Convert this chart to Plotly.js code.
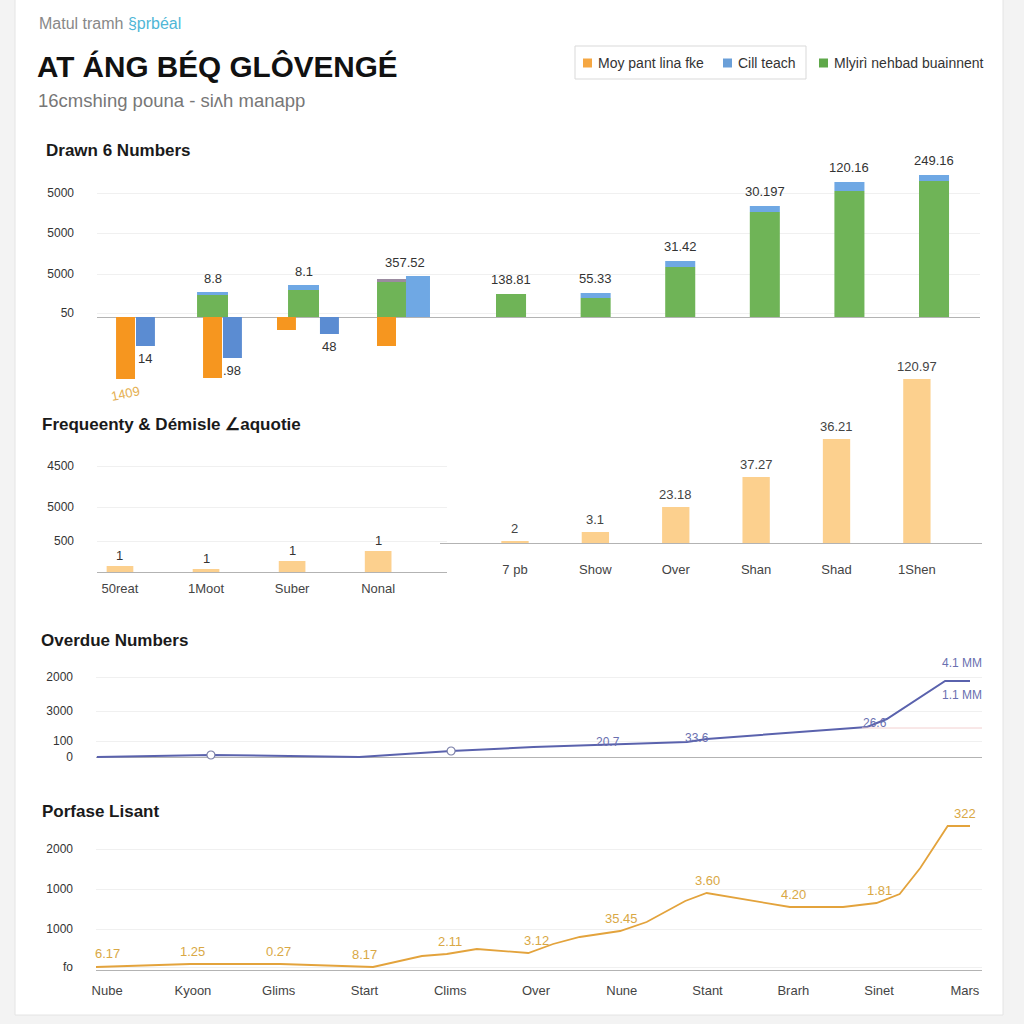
<!DOCTYPE html>
<html><head><meta charset="utf-8">
<script src="https://cdn.plot.ly/plotly-3.0.1.min.js"></script>
<style>html,body{margin:0;padding:0;background:#f3f3f3;}</style>
</head><body><div id="chart" style="width:1024px;height:1024px;"></div>
<script>
// ---------- Panel 1: Drawn 6 Numbers ----------
const drawnGroupsLeft = [1, 2, 3, 4];
const drawnGroupsRight = [5, 6, 7, 8, 9, 10];
const drawnGreenLeft = [0, 22, 27, 35];
const drawnBlueCapLeft = [0, 3, 5, 0];
const drawnPurpleCapLeft = [0, 0, 0, 3];
const drawnOrangeNeg = [-62, -61, -13, -29];
const drawnBlueNeg = [-29, -41, -17, 0];
const drawnBluePos = [0, 0, 0, 41];
const drawnGreenRight = [23, 19, 50, 105, 126, 136];
const drawnBlueCapRight = [0, 5, 6, 6, 9, 6];
const drawnTopLabelsLeft = ["", "8.8", "8.1", "357.52"];
const drawnTopLabelsRight = ["138.81", "55.33", "31.42", "30.197", "120.16", "249.16"];
const drawnBlueNegLabels = ["14", ".98", "48", ""];
const drawnOrangeNegLabels = ["1409", "", "", ""];
const drawnTickVals = [4, 43, 84, 124];
const drawnTickText = ["50", "5000", "5000", "5000"];

// ---------- Panel 2: Frequency ----------
const freqCatsLeft = ["50reat", "1Moot", "Suber", "Nonal"];
const freqValsLeft = [6, 3, 11, 21];
const freqLabelsLeft = ["1", "1", "1", "1"];
const freqCatsRight = ["7 pb", "Show", "Over", "Shan", "Shad", "1Shen"];
const freqValsRight = [2, 11, 36, 66, 104, 164];
const freqLabelsRight = ["2", "3.1", "23.18", "37.27", "36.21", "120.97"];
const freqTickVals = [31, 65, 106];
const freqTickText = ["500", "5000", "4500"];

// ---------- Panel 3: Overdue Numbers ----------
const overdueX = [-0.12, 1.21, 2.94, 4.01, 4.97, 5.98, 6.76, 6.99, 8.86, 9.09, 9.77, 10.06];
const overdueY = [0, 2, 0, 6, 10, 13, 15, 18, 30, 38, 76, 76];
const overdueCircles = [1, 3];
const overdueLabelIdx = [5, 7, 8];
const overdueLabels = ["20.7", "33.6", "26.6"];
const overdueEndLabels = ["4.1 MM", "1.1 MM"];
const overdueTickVals = [0, 16, 46, 80];
const overdueTickText = ["0", "100", "3000", "2000"];

// ---------- Panel 4: Porfase Lisant ----------
const lisantCats = ["Nube", "Kyoon", "Glims", "Start", "Clims", "Over", "Nune", "Stant", "Brarh", "Sinet", "Mars"];
const lisantX = [-0.13, 0.97, 2.02, 3.10, 3.67, 3.96, 4.31, 4.91, 5.20, 5.51, 5.98, 6.29, 6.74, 6.99, 7.96, 8.58, 8.97, 9.24, 9.48, 9.80, 10.06];
const lisantY = [3, 6, 6, 3, 14, 16, 21, 17, 26, 33, 39, 48, 69, 77, 63, 63, 67, 76, 102, 144, 144];
const lisantLabels = ["6.17", "1.25", "0.27", "8.17", "2.11", "3.12", "35.45", "3.60", "4.20", "1.81", "322"];
const lisantLabelAt = [4, 6, 6, 3, 16, 17, 39, 77, 63, 67, 144];
const lisantTickVals = [3, 41, 81, 121];
const lisantTickText = ["fo", "1000", "1000", "2000"];

// ---------- helpers ----------
const px = v => v / 1024;
const py = v => 1 - v / 1024;
const FONT = "Liberation Sans, Arial, sans-serif";
const ORANGE = "#f6961f", BLUE = "#5b8cd2", BLUE2 = "#6fa8e4", GREEN = "#6fb457", PURPLE = "#9b8ba0";
const BARORANGE = "#fcd08e", LINEBLUE = "#5a62ad", LINEGOLD = "#e3a33c", LABBLUE = "#6a70b0", LABGOLD = "#d9a845";

const orangeOff = [-0.195, -0.195, -0.345, -0.195];
const blueOff = [0.034, 0.034, 0.149, 0.034];
const greenOffL = [-0.264, -0.264, -0.218, -0.195];
const smallW = 0.218, greenW = 0.356;

const traces = [];
// panel 1 left
traces.push({type: "bar", x: drawnGroupsLeft, y: drawnGreenLeft, xaxis: "x", yaxis: "y", offset: greenOffL, width: greenW, marker: {color: GREEN, line: {width: 0}}});
traces.push({type: "bar", x: drawnGroupsLeft, y: drawnBlueCapLeft, base: drawnGreenLeft, xaxis: "x", yaxis: "y", offset: greenOffL, width: greenW, marker: {color: BLUE2, line: {width: 0}}});
traces.push({type: "bar", x: drawnGroupsLeft, y: drawnPurpleCapLeft, base: drawnGreenLeft, xaxis: "x", yaxis: "y", offset: greenOffL, width: greenW, marker: {color: PURPLE, line: {width: 0}}});
traces.push({type: "bar", x: drawnGroupsLeft, y: drawnOrangeNeg, xaxis: "x", yaxis: "y", offset: orangeOff, width: smallW, marker: {color: ORANGE, line: {width: 0}}});
traces.push({type: "bar", x: drawnGroupsLeft, y: drawnBlueNeg, xaxis: "x", yaxis: "y", offset: blueOff, width: smallW, marker: {color: BLUE, line: {width: 0}}});
traces.push({type: "bar", x: drawnGroupsLeft, y: drawnBluePos, xaxis: "x", yaxis: "y", offset: 0.138, width: 0.276, marker: {color: BLUE2, line: {width: 0}}});
// panel 1 right
traces.push({type: "bar", x: drawnGroupsRight, y: drawnGreenRight, xaxis: "x2", yaxis: "y", offset: -0.177, width: 0.355, marker: {color: GREEN, line: {width: 0}}});
traces.push({type: "bar", x: drawnGroupsRight, y: drawnBlueCapRight, base: drawnGreenRight, xaxis: "x2", yaxis: "y", offset: -0.177, width: 0.355, marker: {color: BLUE2, line: {width: 0}}});
// panel 2
traces.push({type: "bar", x: freqCatsLeft, y: freqValsLeft, xaxis: "x3", yaxis: "y2", width: 0.31, marker: {color: BARORANGE, line: {width: 0}}});
traces.push({type: "bar", x: freqCatsRight, y: freqValsRight, xaxis: "x4", yaxis: "y3", width: 0.34, marker: {color: BARORANGE, line: {width: 0}}});
// panel 3
traces.push({type: "scatter", mode: "lines", x: overdueX, y: overdueY, xaxis: "x5", yaxis: "y4", line: {color: LINEBLUE, width: 2}});
traces.push({type: "scatter", mode: "markers", x: overdueCircles.map(i => overdueX[i]), y: overdueCircles.map(i => overdueY[i]), xaxis: "x5", yaxis: "y4",
  marker: {size: 8, color: "#ffffff", line: {color: "#7a7fa8", width: 1.2}}});
// panel 4
traces.push({type: "scatter", mode: "lines", x: lisantX, y: lisantY, xaxis: "x6", yaxis: "y5", line: {color: LINEGOLD, width: 1.8}});

const ann = [];
const shapes = [];
// card and header
shapes.push({type: "rect", xref: "paper", yref: "paper", x0: px(15), x1: px(1003), y0: py(1015), y1: py(-5), fillcolor: "#ffffff", line: {color: "#e4e4e4", width: 1}, layer: "below"});
ann.push({xref: "paper", yref: "paper", x: px(37), y: py(23), xanchor: "left", yanchor: "middle", showarrow: false,
  text: "Matul tramh <span style='color:#4fb6d6'>§prbéal</span>", font: {size: 16, color: "#888888"}});
ann.push({xref: "paper", yref: "paper", x: px(35), y: py(66), xanchor: "left", yanchor: "middle", showarrow: false,
  text: "<b>AT ÁNG BÉQ GLÔVENGÉ</b>", font: {size: 29.7, color: "#111111"}});
ann.push({xref: "paper", yref: "paper", x: px(36), y: py(100), xanchor: "left", yanchor: "middle", showarrow: false,
  text: "16cmshing pouna - siʌh manapp", font: {size: 18.5, color: "#777777"}});
// legend
shapes.push({type: "rect", xref: "paper", yref: "paper", x0: px(575), x1: px(806), y0: py(79), y1: py(46), fillcolor: "#ffffff", line: {color: "#d9d9d9", width: 1}});
const legItems = [["Moy pant lina fke", "#f5a742", 583], ["Cill teach", "#6a9fd8", 723], ["Mlyirì nehbad buainnent", "#5fa84a", 819]];
legItems.forEach(([t, c, xx]) => {
  shapes.push({type: "rect", xref: "paper", yref: "paper", x0: px(xx), x1: px(xx + 9), y0: py(67.5), y1: py(58.5), fillcolor: c, line: {width: 0}});
  ann.push({xref: "paper", yref: "paper", x: px(xx + 13), y: py(63), xanchor: "left", yanchor: "middle", showarrow: false, text: t, font: {size: 14, color: "#333333"}});
});
// panel titles
[["Drawn 6 Numbers", 44, 150], ["Frequeenty & Démisle ∠aquotie", 40, 424], ["Overdue Numbers", 39, 640], ["Porfase Lisant", 40, 811]].forEach(([t, xx, yy]) => {
  ann.push({xref: "paper", yref: "paper", x: px(xx), y: py(yy), xanchor: "left", yanchor: "middle", showarrow: false, text: "<b>" + t + "</b>", font: {size: 17, color: "#1a1a1a"}});
});

// panel 1 labels
drawnGroupsLeft.forEach((g, i) => {
  if (drawnTopLabelsLeft[i]) {
    const top = Math.max(drawnGreenLeft[i] + drawnBlueCapLeft[i] + drawnPurpleCapLeft[i], drawnBluePos[i]);
    ann.push({xref: "x", yref: "y", x: g + greenOffL[i] + greenW / 2, y: top, yanchor: "bottom", yshift: 4, xshift: drawnBluePos[i] > 0 ? 12 : 0,
      showarrow: false, text: drawnTopLabelsLeft[i], font: {size: 13, color: "#333"}});
  }
  if (drawnBlueNegLabels[i]) {
    ann.push({xref: "x", yref: "y", x: g + blueOff[i] + smallW / 2, y: drawnBlueNeg[i], yanchor: "top", yshift: -3,
      showarrow: false, text: drawnBlueNegLabels[i], font: {size: 13, color: "#333"}});
  }
  if (drawnOrangeNegLabels[i]) {
    ann.push({xref: "x", yref: "y", x: g + orangeOff[i] + smallW / 2, y: drawnOrangeNeg[i], yanchor: "top", yshift: -2, textangle: -12,
      showarrow: false, text: drawnOrangeNegLabels[i], font: {size: 13, color: "#e5b052"}});
  }
});
drawnGroupsRight.forEach((g, i) => {
  ann.push({xref: "x2", yref: "y", x: g, y: drawnGreenRight[i] + drawnBlueCapRight[i], yanchor: "bottom", yshift: 5,
    showarrow: false, text: drawnTopLabelsRight[i], font: {size: 13, color: "#333"}});
});
// panel 2 labels
freqCatsLeft.forEach((c, i) => ann.push({xref: "x3", yref: "y2", x: c, y: freqValsLeft[i], yanchor: "bottom", yshift: 1, showarrow: false, text: freqLabelsLeft[i], font: {size: 13, color: "#333"}}));
freqCatsRight.forEach((c, i) => ann.push({xref: "x4", yref: "y3", x: c, y: freqValsRight[i], yanchor: "bottom", yshift: 3, showarrow: false, text: freqLabelsRight[i], font: {size: 13, color: "#444"}}));
// panel 3 labels
const ov3Shift = [[-12, 2], [-10, 1], [8, 4]];
overdueLabelIdx.forEach((k, j) => ann.push({xref: "x5", yref: "y4", x: overdueX[k], y: overdueY[k], yanchor: "middle", xshift: ov3Shift[j][0], yshift: ov3Shift[j][1],
  showarrow: false, text: overdueLabels[j], font: {size: 12, color: LABBLUE}}));
const last = overdueX.length - 1;
ann.push({xref: "x5", yref: "y4", x: overdueX[last], y: overdueY[last], yanchor: "middle", xshift: -8, yshift: 18, showarrow: false, text: overdueEndLabels[0], font: {size: 12, color: LABBLUE}});
ann.push({xref: "x5", yref: "y4", x: overdueX[last], y: overdueY[last], yanchor: "middle", xshift: -8, yshift: -14, showarrow: false, text: overdueEndLabels[1], font: {size: 12, color: LABBLUE}});
shapes.push({type: "line", xref: "x5", yref: "y4", x0: 8.8, x1: 10.2, y0: 29, y1: 29, line: {color: "#f2d0d0", width: 1}});
// panel 4 labels
lisantCats.forEach((c, i) => ann.push({xref: "x6", yref: "y5", x: i, y: lisantLabelAt[i], yanchor: "bottom", yshift: 3, showarrow: false, text: lisantLabels[i], font: {size: 13, color: LABGOLD}}));

const hiddenX = {showticklabels: false, showgrid: false, zeroline: false, showline: false, ticks: "", fixedrange: true};
const yBase = {showgrid: true, gridcolor: "#f0f0f0", gridwidth: 1, zeroline: true, zerolinecolor: "#b3b3b3", zerolinewidth: 1,
  showline: false, ticks: "", tickfont: {size: 12, color: "#333"}, ticklabelstandoff: 22, fixedrange: true};

const layout = {
  width: 1024, height: 1024, autosize: false,
  margin: {l: 0, r: 0, t: 0, b: 0},
  paper_bgcolor: "#f3f3f3", plot_bgcolor: "rgba(0,0,0,0)",
  font: {family: FONT, color: "#333"},
  showlegend: false, barmode: "overlay",
  xaxis: Object.assign({}, hiddenX, {domain: [px(97), px(450)], range: [0.586, 4.644], anchor: "y"}),
  xaxis2: Object.assign({}, hiddenX, {domain: [px(450), px(980)], range: [4.279, 10.544], anchor: "y"}),
  yaxis: Object.assign({}, yBase, {domain: [py(400), py(165)], range: [-83, 152], anchor: "x", tickvals: drawnTickVals, ticktext: drawnTickText}),
  xaxis3: {domain: [px(97), px(447)], type: "category", range: [-0.267, 3.80], anchor: "y2", showgrid: false, zeroline: false, ticks: "", tickfont: {size: 13, color: "#444"}, ticklabelstandoff: 4, fixedrange: true},
  yaxis2: Object.assign({}, yBase, {domain: [py(575), py(455)], range: [-3, 117], anchor: "x3", tickvals: freqTickVals, ticktext: freqTickText}),
  xaxis4: {domain: [px(440), px(982)], type: "category", range: [-0.933, 5.81], anchor: "y3", showgrid: false, zeroline: false, ticks: "", tickfont: {size: 13, color: "#444"}, ticklabelstandoff: 14, fixedrange: true},
  yaxis3: Object.assign({}, yBase, {domain: [py(546), py(355)], range: [-3, 188], anchor: "x4", showticklabels: false, showgrid: false}),
  xaxis5: Object.assign({}, hiddenX, {domain: [px(96), px(982)], range: [-0.13, 10.2], anchor: "y4"}),
  yaxis4: Object.assign({}, yBase, {domain: [py(762), py(665)], range: [-5, 92], anchor: "x5", tickvals: overdueTickVals, ticktext: overdueTickText}),
  xaxis6: {domain: [px(96), px(982)], range: [-0.13, 10.2], anchor: "y5", tickvals: lisantCats.map((c, i) => i), ticktext: lisantCats,
    showgrid: false, zeroline: false, ticks: "", tickfont: {size: 13, color: "#444"}, ticklabelstandoff: 6, fixedrange: true},
  yaxis5: Object.assign({}, yBase, {domain: [py(975), py(815)], range: [-5, 155], anchor: "x6", tickvals: lisantTickVals, ticktext: lisantTickText}),
  annotations: ann,
  shapes: shapes
};

Plotly.newPlot("chart", traces, layout, {displayModeBar: false, staticPlot: true});
</script>
</body></html>
